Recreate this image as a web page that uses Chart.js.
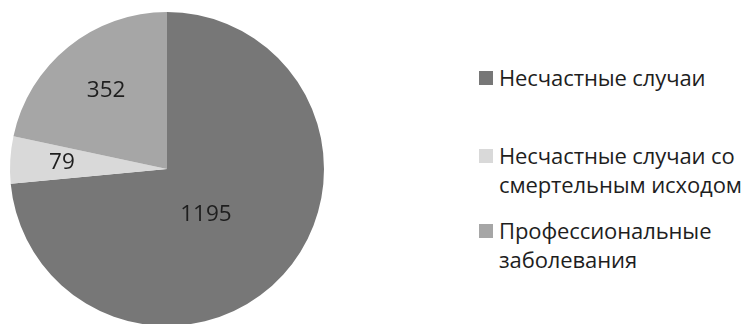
<!DOCTYPE html>
<html>
<head>
<meta charset="utf-8">
<script src="https://cdn.jsdelivr.net/npm/chart.js@4.4.1/dist/chart.umd.min.js"></script>
<style>
  html, body { margin: 0; padding: 0; background: #fff; overflow: hidden; }
  body { width: 751px; height: 324px; position: relative; }
  #pie-box { position: absolute; left: 0; top: 0; width: 334px; height: 338px; }
  #legend { position: absolute; left: 0; top: 0; font-family: "Open Sans", sans-serif; font-size: 22px; color: #1e1e1e; }
  .item { position: absolute; left: 479px; white-space: nowrap; }
  .swatch { position: absolute; left: 0; width: 14px; height: 14px; }
  .txt { position: absolute; left: 20px; line-height: 29px; letter-spacing: -0.1px; }
</style>
</head>
<body>
<div id="pie-box"><canvas id="pie"></canvas></div>
<div id="legend"></div>
<script>
// categories and counts
const labels = [
  ['Несчастные случаи'],
  ['Несчастные случаи со', 'смертельным исходом'],
  ['Профессиональные', 'заболевания']
];
const counts = [1195, 79, 352];
const colors = ['#777777', '#d9d9d9', '#a6a6a6'];

// where the value sits along the slice radius, and a small turn (deg)
const labelRadius = [0.38, 0.67, 0.63];
const labelTurn = [7, 0, 1];

const valueLabels = {
  id: 'valueLabels',
  afterDatasetsDraw(chart) {
    const ctx = chart.ctx;
    const arcs = chart.getDatasetMeta(0).data;
    ctx.save();
    ctx.font = '22.5px "Open Sans", sans-serif';
    ctx.fillStyle = '#1e1e1e';
    ctx.textAlign = 'center';
    ctx.textBaseline = 'middle';
    arcs.forEach((arc, i) => {
      const p = arc.getProps(['x', 'y', 'startAngle', 'endAngle', 'outerRadius'], true);
      const mid = (p.startAngle + p.endAngle) / 2 + labelTurn[i] * Math.PI / 180;
      const r = p.outerRadius * labelRadius[i];
      ctx.fillText(String(counts[i]), p.x + Math.cos(mid) * r, p.y + Math.sin(mid) * r);
    });
    ctx.restore();
  }
};

new Chart(document.getElementById('pie'), {
  type: 'pie',
  data: {
    labels: labels.map(l => l.join(' ')),
    datasets: [{
      data: counts,
      backgroundColor: colors,
      borderWidth: 0
    }]
  },
  options: {
    responsive: true,
    maintainAspectRatio: false,
    animation: false,
    layout: { padding: { top: 12, left: 10, right: 10, bottom: 12 } },
    plugins: {
      legend: { display: false },
      tooltip: { enabled: false }
    }
  },
  plugins: [valueLabels]
});

// legend on the right, one block per category
const legendTops = [63, 141, 216];
const legend = document.getElementById('legend');
labels.forEach((lines, i) => {
  const item = document.createElement('div');
  item.className = 'item';
  item.style.top = legendTops[i] + 'px';
  item.innerHTML = `<div class="swatch" style="background:${colors[i]};top:8px"></div>` +
    `<div class="txt">${lines.join('<br>')}</div>`;
  legend.appendChild(item);
});
</script>
</body>
</html>
